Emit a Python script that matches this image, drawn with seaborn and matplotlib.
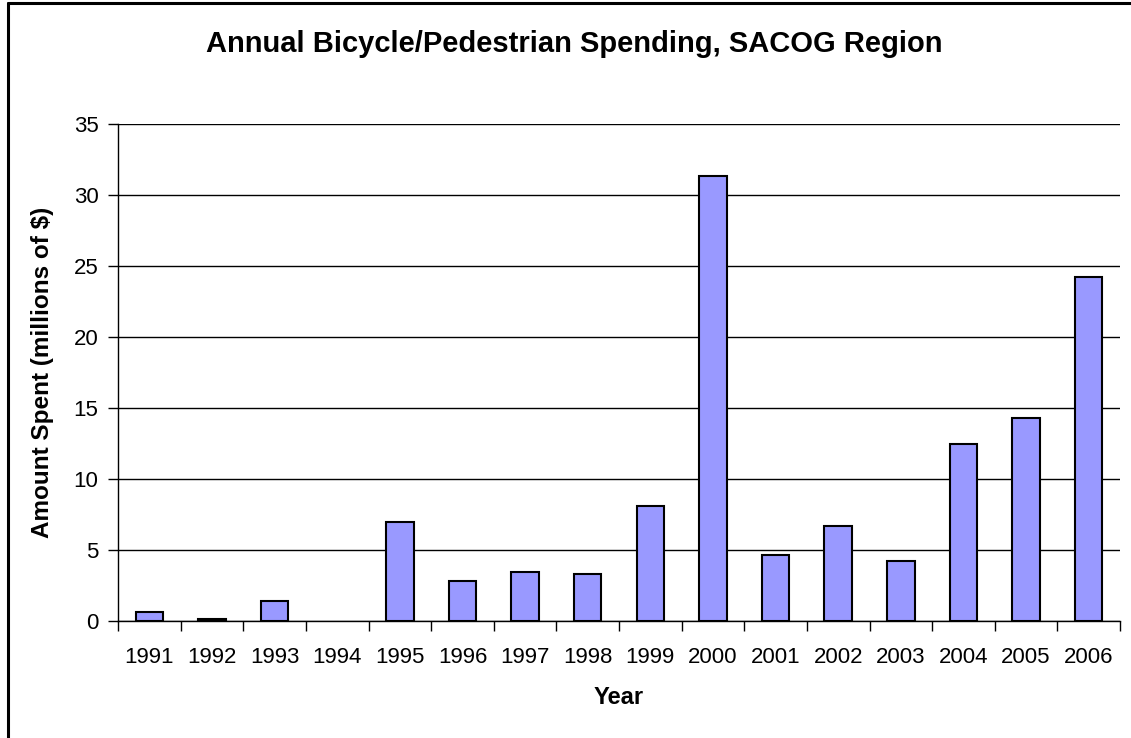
#!/usr/bin/env python3

import pandas as pd
import matplotlib
matplotlib.use("Agg")
import matplotlib.pyplot as plt
import seaborn as sns
from matplotlib.lines import Line2D

# ======================================================
# DATA
# ======================================================
YEARS = [str(y) for y in range(1991, 2007)]
SPENT = [0.65, 0.14, 1.41, 0.0, 6.95, 2.80, 3.45, 3.33,
         8.12, 31.36, 4.62, 6.69, 4.25, 12.50, 14.32, 24.25]
Y_TICKS = [0, 5, 10, 15, 20, 25, 30, 35]

BAR_COLOR = "#9999FF"
FONT = ["Liberation Sans", "DejaVu Sans"]

W, H = 1131, 738

# ======================================================
# PLOT
# ======================================================
sns.set_theme(style="white")
plt.rcParams["font.family"] = FONT
plt.rcParams["text.color"] = "black"
plt.rcParams["axes.labelcolor"] = "black"
plt.rcParams["xtick.color"] = "black"
plt.rcParams["ytick.color"] = "black"

df = pd.DataFrame({"Year": YEARS, "Spent": SPENT})

fig = plt.figure(figsize=(W / 100, H / 100), dpi=100)
ax = fig.add_axes([118 / W, 1 - 621 / H, 1002 / W, 497 / H])

sns.barplot(
    data=df,
    x="Year",
    y="Spent",
    color=BAR_COLOR,
    edgecolor="black",
    linewidth=1.5,
    width=0.44,
    saturation=1,
    ax=ax,
    zorder=3,
)

# zero-height bars are not drawn in the original
for bar in ax.patches:
    if bar.get_height() == 0:
        bar.set_visible(False)

# ---- axes ----
ax.set_xlim(-0.5, len(YEARS) - 0.5)
ax.set_ylim(0, 35)
ax.set_yticks(Y_TICKS)
ax.yaxis.grid(True, color="black", linewidth=1)
ax.set_axisbelow(True)

for side in ["top", "right"]:
    ax.spines[side].set_visible(False)
for side in ["left", "bottom"]:
    ax.spines[side].set_color("black")
    ax.spines[side].set_linewidth(1)

# category ticks sit between bars, like the spreadsheet original
ax.set_xticks([i - 0.5 for i in range(len(YEARS) + 1)], minor=True)
ax.tick_params(axis="x", which="major", length=0, pad=19, labelsize=16)
ax.tick_params(axis="x", which="minor", length=7, width=1, direction="out", bottom=True)
ax.tick_params(axis="y", length=7, width=1, direction="out", pad=7, labelsize=16, left=True)

ax.set_xlabel("Year", fontsize=17, fontweight="bold")
ax.set_ylabel("Amount Spent (millions of $)", fontsize=17.5, fontweight="bold")
ax.xaxis.label.set_va("center")
ax.yaxis.label.set_va("center")
ax.yaxis.label.set_ha("center")
ax.xaxis.set_label_coords(0.5, -(698 - 621) / 497)
ax.yaxis.set_label_coords(-(118 - 43) / 1002, 0.5)

fig.text(574 / W, 1 - 44 / H, "Annual Bicycle/Pedestrian Spending, SACOG Region",
         ha="center", va="center", fontsize=21, fontweight="bold")

# chart area border (left and top edges only are in view)
fig.lines.append(Line2D([7.5 / W, 7.5 / W], [0, 1 - 3 / H], transform=fig.transFigure,
                        color="black", linewidth=2.2))
fig.lines.append(Line2D([7.5 / W, 1], [1 - 3 / H, 1 - 3 / H], transform=fig.transFigure,
                        color="black", linewidth=2.2))

fig.savefig("out.png", dpi=100)
plt.close(fig)
